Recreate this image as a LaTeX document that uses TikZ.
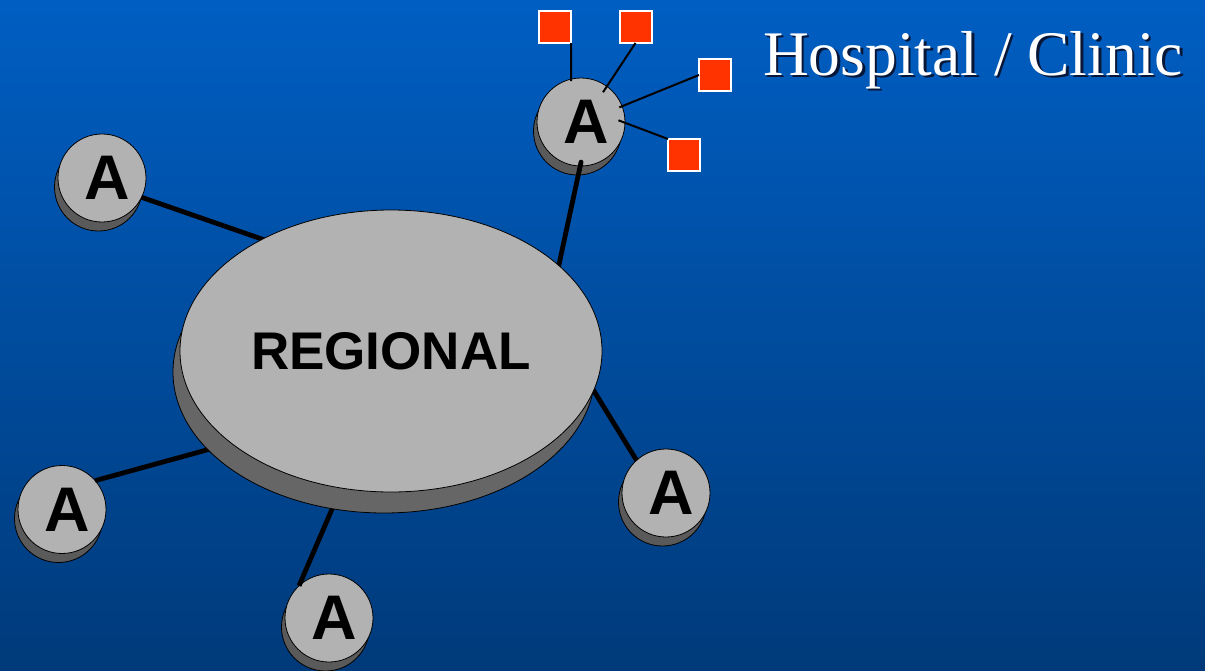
\documentclass[tikz,border=0pt]{standalone}
\usepackage{fontspec}
\setmainfont{Liberation Serif}
\setsansfont{Liberation Sans}
\usetikzlibrary{shapes.geometric,shadows}

\definecolor{bgtop}{RGB}{0,94,194}
\definecolor{bgbot}{RGB}{0,58,122}
\definecolor{disk}{RGB}{178,178,178}
\definecolor{diskside}{RGB}{102,102,102}
\definecolor{siteside}{RGB}{90,90,90}
\definecolor{sitered}{RGB}{255,51,0}
\definecolor{txtshadow}{RGB}{8,22,55}

\pgfdeclarelayer{back}
\pgfdeclarelayer{low}
\pgfdeclarelayer{links}
\pgfsetlayers{back,low,links,main}

% white caption text with a dark offset copy behind it
\newcommand{\shadowtext}[1]{%
  \rlap{\raisebox{-2.5pt}{\hspace*{2.5pt}\textcolor{txtshadow}{#1}}}%
  \textcolor{white}{#1}}

\tikzset{
  access/.style={circle, minimum size=88pt, inner sep=0pt, outer sep=0pt,
    fill=disk, draw=black, line width=0.8pt,
    font=\sffamily\bfseries\fontsize{63}{63}\selectfont,
    copy shadow={shadow xshift=-3.5pt, shadow yshift=-9pt, fill=siteside,
      draw=black, line width=0.8pt}},
  hub/.style={ellipse, minimum width=422pt, minimum height=282pt,
    inner sep=0pt, outer sep=0pt, fill=disk, draw=black, line width=0.8pt,
    font=\sffamily\bfseries\fontsize{53}{53}\selectfont,
    copy shadow={shadow xshift=-7pt, shadow yshift=-21pt, fill=diskside,
      draw=black, line width=0.8pt}},
  site/.style={rectangle, minimum size=32pt, inner sep=0pt, outer sep=0pt,
    fill=sitered, draw=white, line width=2pt},
  trunk/.style={black, line width=4.8pt},
  drop/.style={black, line width=2pt},
  caption/.style={anchor=base west, inner sep=0pt, outer sep=0pt,
    font=\fontsize{63.5}{63.5}\selectfont},
}

\begin{document}
\begin{tikzpicture}[x=1pt,y=-1pt]
  \useasboundingbox (0,0) rectangle (1205,670);
  \begin{pgfonlayer}{back}
    \shade[top color=bgtop, bottom color=bgbot] (0,0) rectangle (1205,670);
  \end{pgfonlayer}

  % access nodes
  \begin{pgfonlayer}{low}
    \node[access] (A1) at (581,122)   {\hspace*{10pt}A};
    \node[access] (A2) at (102,178)   {\hspace*{10pt}A};
    \node[access] (A3) at (62,509.5)  {\hspace*{10pt}A};
    \node[access] (A4) at (329,618)   {\hspace*{10pt}A};
    \node[access] (A5) at (666,493)   {\hspace*{10pt}A};
  \end{pgfonlayer}

  % regional hub
  \node[hub] (R) at (391,351) {REGIONAL};

  % trunk links to the hub
  \begin{pgfonlayer}{links}
    \draw[trunk, line cap=round, shorten <=-4pt, shorten >=-6pt] (A1.-91.4) -- (R.27.9);
    \draw[trunk, shorten >=-6pt] (A2.-26.6) -- (R.139.5);
    \draw[trunk, shorten >=-6pt] (A3.41.8)  -- (R.-150.6);
    \draw[trunk, shorten >=-6pt] (A4.133.2) -- (R.-110.5);
    \draw[trunk, shorten >=-6pt] (A5.132.6) -- (R.-11.5);
  \end{pgfonlayer}

  % hospital / clinic sites
  \node[site] (S1) at (555,27)   {};
  \node[site] (S2) at (635.5,27) {};
  \node[site] (S3) at (715,75)   {};
  \node[site] (S4) at (684,155)  {};

  \draw[drop, shorten >=-2pt] (S1.south east) -- (A1.103);
  \draw[drop, shorten >=-7pt] (S2.south) -- (A1.54);
  \draw[drop, shorten >=-3pt] (S3.west) -- (A1.21.5);
  \draw[drop, shorten >=-7pt] (S4.north west) -- (A1.-1.5);

  % caption
  \node[caption] (cap) at (763,75) {\shadowtext{Hospital / Clinic}};
\end{tikzpicture}
\end{document}
